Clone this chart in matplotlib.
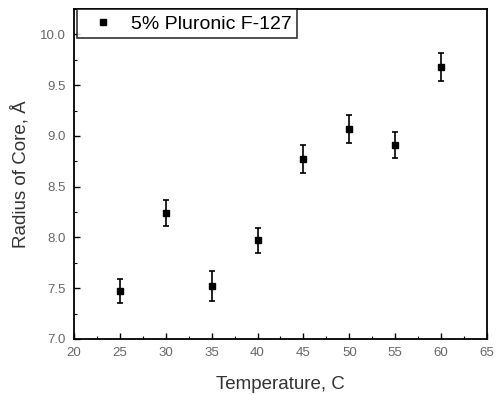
import matplotlib
matplotlib.use("Agg")
import matplotlib.pyplot as plt
from matplotlib.ticker import MultipleLocator
from matplotlib.lines import Line2D

plt.rcParams['font.family'] = ['Liberation Sans', 'DejaVu Sans']

temp = [25, 30, 35, 40, 45, 50, 55, 60]
radius = [7.47, 8.24, 7.52, 7.97, 8.77, 9.07, 8.91, 9.68]
err = [0.12, 0.13, 0.145, 0.12, 0.14, 0.14, 0.125, 0.135]

fig = plt.figure(figsize=(4.96, 3.95), dpi=100)
ax = fig.add_axes([0.149, 0.142, 0.833, 0.835])

ax.errorbar(temp, radius, yerr=err, fmt='s', color='black', ms=4.5,
            ecolor='black', elinewidth=1.2, capsize=2.3, capthick=1.2)

ax.set_xlim(20, 65)
ax.set_ylim(7.0, 10.25)
ax.xaxis.set_major_locator(MultipleLocator(5))
ax.xaxis.set_minor_locator(MultipleLocator(2.5))
ax.yaxis.set_major_locator(MultipleLocator(0.5))
ax.yaxis.set_minor_locator(MultipleLocator(0.25))
ax.tick_params(which='major', direction='in', length=4, width=1.0,
               labelsize=9.5, labelcolor='#666666', top=False, right=False)
ax.tick_params(axis='y', which='major', pad=6)
ax.tick_params(axis='x', which='major', pad=6)
ax.tick_params(which='minor', direction='in', length=2, width=0.8,
               top=False, right=False)
for s in ax.spines.values():
    s.set_linewidth(1.3)

ax.set_xlabel('Temperature, C', fontsize=13.5, color='#333333', labelpad=12)
ax.set_ylabel('Radius of Core, Å', fontsize=13.5, color='#333333', labelpad=7)

handle = Line2D([], [], marker='s', ls='none', color='black', ms=4.5)
leg = ax.legend([handle], ['5% Pluronic F-127'], loc='upper left',
                bbox_to_anchor=(0.008, 1.0), fontsize=14, frameon=True,
                fancybox=False, borderaxespad=0.0, handletextpad=0.35,
                borderpad=0.3, handlelength=2.1)
leg.get_frame().set_edgecolor('black')
leg.get_frame().set_linewidth(1.2)

fig.savefig('out.png', dpi=100)
